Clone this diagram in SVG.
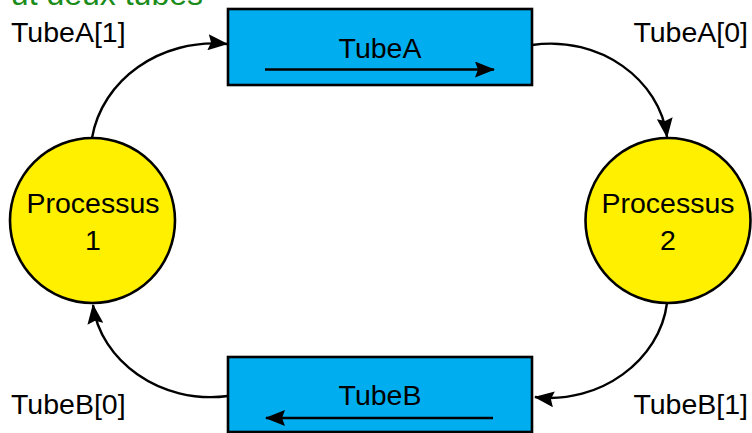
<svg xmlns="http://www.w3.org/2000/svg" width="752" height="433" viewBox="0 0 752 433">
<style>
text{font-family:"Liberation Sans","DejaVu Sans",sans-serif;fill:#000}
.lbl{font-size:28.5px}
.t{font-size:28.5px;text-anchor:middle}
.tube{fill:#00AEEF;stroke:#000;stroke-width:2.6}
.proc{fill:#FFF000;stroke:#000;stroke-width:2.6}
.c{fill:none;stroke:#000;stroke-width:2.4}
</style>
<defs>
<marker id="ah" markerUnits="userSpaceOnUse" markerWidth="20" markerHeight="16" refX="19" refY="8" orient="auto">
<path d="M0,0 L20,8 L0,16 L3,8 Z" fill="#000"/>
</marker>
</defs>
<text x="203" y="5" style="font-size:32px;fill:#1a8c1a;text-anchor:end">ut deux tubes</text>
<g id="tubeA">
<rect class="tube" x="228" y="9" width="304" height="76"/>
<text class="t" x="380" y="58">TubeA</text>
<line class="c" x1="265" y1="69.5" x2="494" y2="69.5" marker-end="url(#ah)"/>
</g>
<g id="tubeB">
<rect class="tube" x="228" y="357" width="304" height="75"/>
<text class="t" x="380" y="405">TubeB</text>
<line class="c" x1="493" y1="418" x2="266" y2="418" marker-end="url(#ah)"/>
</g>
<g id="p1">
<circle class="proc" cx="92.5" cy="220.5" r="82.5"/>
<text class="t" x="93" y="213">Processus</text>
<text class="t" x="93" y="250">1</text>
</g>
<g id="p2">
<circle class="proc" cx="668" cy="220.5" r="82.5"/>
<text class="t" x="668" y="213">Processus</text>
<text class="t" x="668" y="250">2</text>
</g>
<g id="connectors">
<path class="c" d="M92,138 C102,80 160,38 227,44" marker-end="url(#ah)"/>
<path class="c" d="M532,45 C600,35 660,80 667,137" marker-end="url(#ah)"/>
<path class="c" d="M667,303 C660,360 600,405 535,397" marker-end="url(#ah)"/>
<path class="c" d="M228,396 C160,405 100,360 93,305" marker-end="url(#ah)"/>
</g>
<g id="labels">
<text class="lbl" x="11" y="42">TubeA[1]</text>
<text class="lbl" x="748" y="42" text-anchor="end">TubeA[0]</text>
<text class="lbl" x="11" y="414">TubeB[0]</text>
<text class="lbl" x="748" y="414" text-anchor="end">TubeB[1]</text>
</g>
</svg>
